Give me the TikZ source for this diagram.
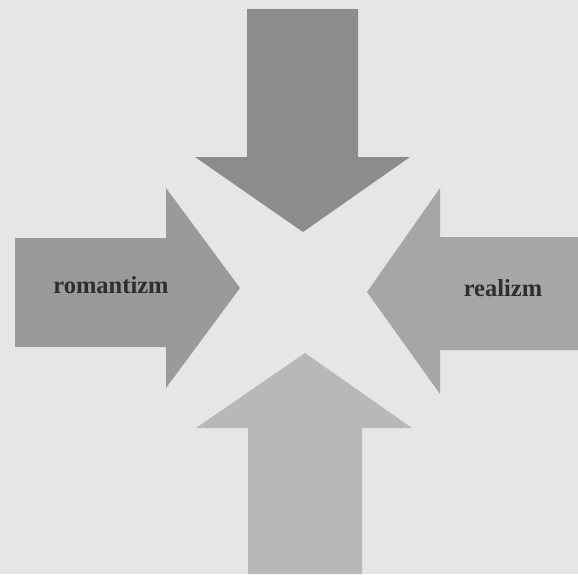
\documentclass[tikz,border=0pt]{standalone}
\usepackage{fontspec}
\setmainfont{Liberation Serif}
\definecolor{bg}{HTML}{E6E6E6}
\definecolor{topc}{HTML}{8C8C8C}
\definecolor{leftc}{HTML}{9A9A9A}
\definecolor{rightc}{HTML}{A6A6A6}
\definecolor{botc}{HTML}{B8B8B8}
\definecolor{txt}{HTML}{2E2E2E}
\tikzset{
  arrowshape/.style={draw=none},
  lbl/.style={font=\fontsize{24.5}{26}\selectfont\bfseries, text=txt, inner sep=0pt}
}
\begin{document}
\begin{tikzpicture}[x=1pt,y=-1pt]
\fill[bg] (0,0) rectangle (578,574);
\useasboundingbox (0,0) rectangle (578,574);
% top arrow (pointing down)
\fill[topc,arrowshape] (247,9) -- (358,9) -- (358,157) -- (410,157) -- (303,232) -- (195,157) -- (247,157) -- cycle;
% bottom arrow (pointing up)
\fill[botc,arrowshape] (248,574) -- (362,574) -- (362,428) -- (412,428) -- (305,353) -- (196,428) -- (248,428) -- cycle;
% left arrow (pointing right)
\fill[leftc,arrowshape] (15,238) -- (166,238) -- (166,188) -- (240,288) -- (166,388) -- (166,347) -- (15,347) -- cycle;
% right arrow (pointing left)
\fill[rightc,arrowshape] (578,237) -- (440,237) -- (440,188) -- (367,292) -- (440,394) -- (440,350) -- (578,350) -- cycle;
\node[lbl] (rom) at (111,285) {romantizm};
\node[lbl] (rea) at (503,288) {realizm};
\end{tikzpicture}
\end{document}
